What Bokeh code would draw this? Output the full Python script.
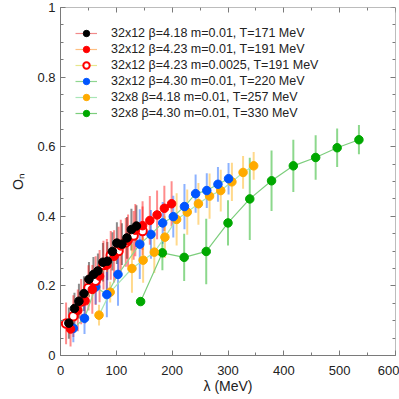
from bokeh.plotting import figure
from bokeh.models import (ColumnDataSource, Range1d, LinearAxis, FixedTicker,
                          Legend, LegendItem, CustomLabelingPolicy)
from bokeh.core.properties import value
from bokeh.embed import file_html
from bokeh.resources import INLINE

# ---------------- data ----------------
labels = [
    "32x12 β=4.18 m=0.01, T=171 MeV",
    "32x12 β=4.23 m=0.01, T=191 MeV",
    "32x12 β=4.23 m=0.0025, T=191 MeV",
    "32x12 β=4.30 m=0.01, T=220 MeV",
    "32x8 β=4.18 m=0.01, T=257 MeV",
    "32x8 β=4.30 m=0.01, T=330 MeV",
]

black_x = [15, 25, 33, 42, 51, 59, 67, 76, 84, 93, 101, 110, 119, 127, 136]
black_y = [0.093, 0.135, 0.156, 0.178, 0.219, 0.233, 0.243, 0.268, 0.271, 0.299,
           0.323, 0.320, 0.338, 0.362, 0.372]
black_err = [0.045, 0.045, 0.05, 0.05, 0.05, 0.05, 0.05, 0.055, 0.055, 0.055,
             0.06, 0.06, 0.06, 0.06, 0.06]

red_x = [18, 31, 44, 57, 70, 83, 96, 108, 121, 134, 147, 160, 173, 186, 199]
red_y = [0.076, 0.13, 0.157, 0.19, 0.228, 0.26, 0.285, 0.315, 0.33, 0.36,
         0.373, 0.388, 0.404, 0.423, 0.436]
red_err = [0.05, 0.06, 0.065, 0.07, 0.075, 0.075, 0.075, 0.075, 0.075, 0.075,
           0.07, 0.07, 0.07, 0.065, 0.065]

open_x = [10, 23, 37, 50, 63, 77, 90, 104, 117, 131, 147]
open_y = [0.092, 0.113, 0.155, 0.194, 0.215, 0.26, 0.288, 0.30, 0.325, 0.345, 0.358]
open_err = [0.06, 0.06, 0.065, 0.065, 0.07, 0.07, 0.07, 0.07, 0.07, 0.07, 0.07]

blue_x = [23, 43, 63, 83, 103, 142, 162, 183, 202, 222, 242, 262, 282, 301]
blue_y = [0.078, 0.107, 0.197, 0.175, 0.233, 0.32, 0.348, 0.381, 0.399, 0.428,
          0.465, 0.474, 0.492, 0.508]
blue_err = [0.04, 0.045, 0.05, 0.065, 0.09, 0.1, 0.07, 0.06, 0.06, 0.065,
            0.055, 0.05, 0.05, 0.045]

orange_x = [69, 89, 128, 148, 168, 187, 208, 227, 247, 267, 287, 307, 327, 346]
orange_y = [0.116, 0.182, 0.25, 0.274, 0.297, 0.34, 0.391, 0.412, 0.436, 0.458,
            0.474, 0.499, 0.526, 0.545]
orange_err = [0.03, 0.03, 0.07, 0.065, 0.06, 0.06, 0.075, 0.065, 0.06, 0.065,
              0.06, 0.055, 0.047, 0.04]

green_x = [143.5, 182.5, 221.5, 261, 300, 339, 378, 417, 457, 495.5, 534.5]
green_y = [0.155, 0.295, 0.282, 0.299, 0.381, 0.450, 0.502, 0.545, 0.569, 0.597, 0.620]
green_err = [0.005, 0.05, 0.068, 0.094, 0.065, 0.118, 0.087, 0.075, 0.064, 0.055, 0.042]

x_ticks = [0, 100, 200, 300, 400, 500, 600]
x_minor = [v * 50 for v in range(13)]
y_ticks = [0, 0.2, 0.4, 0.6, 0.8, 1.0]
y_tick_labels = ["0", "0.2", "0.4", "0.6", "0.8", "1"]
y_minor = [round(v * 0.05, 2) for v in range(21)]

X_MIN, X_MAX = 0, 600
Y_MIN, Y_MAX = 0, 1

series = [
    # x, y, err, marker color, fill, bar color, line color
    (black_x, black_y, black_err, "#000000", "#000000", "#000000", "#f28a8a"),
    (red_x, red_y, red_err, "#ff0000", "#ff0000", "#ff0000", "#ffbf80"),
    (open_x, open_y, open_err, "#ff0000", "#ffffff", "#ff0000", "#e6e68c"),
    (blue_x, blue_y, blue_err, "#0055ff", "#0055ff", "#0055ff", "#8fd68f"),
    (orange_x, orange_y, orange_err, "#ffaa00", "#ffaa00", "#ffaa00", "#a8e6b8"),
    (green_x, green_y, green_err, "#00a800", "#00a800", "#00a800", "#7dce7d"),
]

# ---------------- figure ----------------
p = figure(width=399, height=399, output_backend="svg", toolbar_location=None,
           x_range=Range1d(X_MIN, X_MAX), y_range=Range1d(Y_MIN, Y_MAX),
           min_border_left=60, min_border_right=4, min_border_top=7,
           min_border_bottom=44,
           x_axis_label="λ (MeV)", y_axis_label="Oₙ")
p.grid.visible = False
p.outline_line_color = None
p.background_fill_color = "white"

FONT = "Liberation Sans"
AX = "#7a7a7a"

no_labels = CustomLabelingPolicy(
    code="for (const i of Array.from(indices)) { indices.unset(i) } return indices")

p.add_layout(LinearAxis(fixed_location=X_MAX, major_label_policy=no_labels), "right")
p.add_layout(LinearAxis(fixed_location=Y_MAX, major_label_policy=no_labels), "above")

for ax in p.axis:
    ax.axis_line_color = AX
    ax.major_tick_line_color = AX
    ax.minor_tick_line_color = AX
    ax.major_tick_in = 5
    ax.major_tick_out = 0
    ax.minor_tick_in = 3
    ax.minor_tick_out = 0
    ax.major_label_text_font = FONT
    ax.major_label_text_font_size = "13px"
    ax.major_label_text_color = "#222222"
    ax.axis_label_text_font = FONT
    ax.axis_label_text_font_size = "14px"
    ax.axis_label_text_font_style = "normal"
    ax.axis_label_text_color = "#222222"

for ax in p.xaxis:
    ax.ticker = FixedTicker(ticks=x_ticks, minor_ticks=x_minor)
for ax in p.yaxis:
    ax.ticker = FixedTicker(ticks=y_ticks, minor_ticks=y_minor)
    ax.major_label_overrides = {t: s for t, s in zip(y_ticks, y_tick_labels)}

p.below[0].major_label_standoff = 10
p.below[0].axis_label_standoff = 0
p.left[0].major_label_standoff = 5
p.left[0].axis_label_standoff = 8

# ---------------- glyphs ----------------
sources = []
for (xs, ys, es, mc, fc, bc, lc) in series:
    sources.append(ColumnDataSource(dict(x=xs, y=ys, h=[2 * e for e in es])))

line_r, mark_r = [], []
for src, (xs, ys, es, mc, fc, bc, lc) in zip(sources, series):
    p.rect(x="x", y="y", width=2, height="h", width_units="screen",
           fill_color=bc, fill_alpha=0.45, line_color=None, source=src)
for src, (xs, ys, es, mc, fc, bc, lc) in zip(sources, series):
    line_r.append(p.line(x="x", y="y", line_color=lc, line_width=1.2, source=src))
for src, (xs, ys, es, mc, fc, bc, lc) in reversed(list(zip(sources, series))):
    mark_r.insert(0, p.scatter(x="x", y="y", marker="circle", size=8.5,
                               fill_color=fc, line_color=mc,
                               line_width=2 if fc == "#ffffff" else 1,
                               source=src))

# ---------------- legend ----------------
leg_main = Legend(
    items=[LegendItem(label=value(lab), renderers=[l, m])
           for lab, l, m in zip(labels, line_r, mark_r)],
    location=(15, 234), glyph_width=22, glyph_height=16, label_height=16,
    spacing=0, padding=0, margin=0, label_standoff=14,
    label_text_font=FONT, label_text_font_size="12.5px", label_text_color="#222222",
    border_line_color=None, background_fill_alpha=0,
)
p.add_layout(leg_main)

open("out.html", "w").write(file_html(p, INLINE))
